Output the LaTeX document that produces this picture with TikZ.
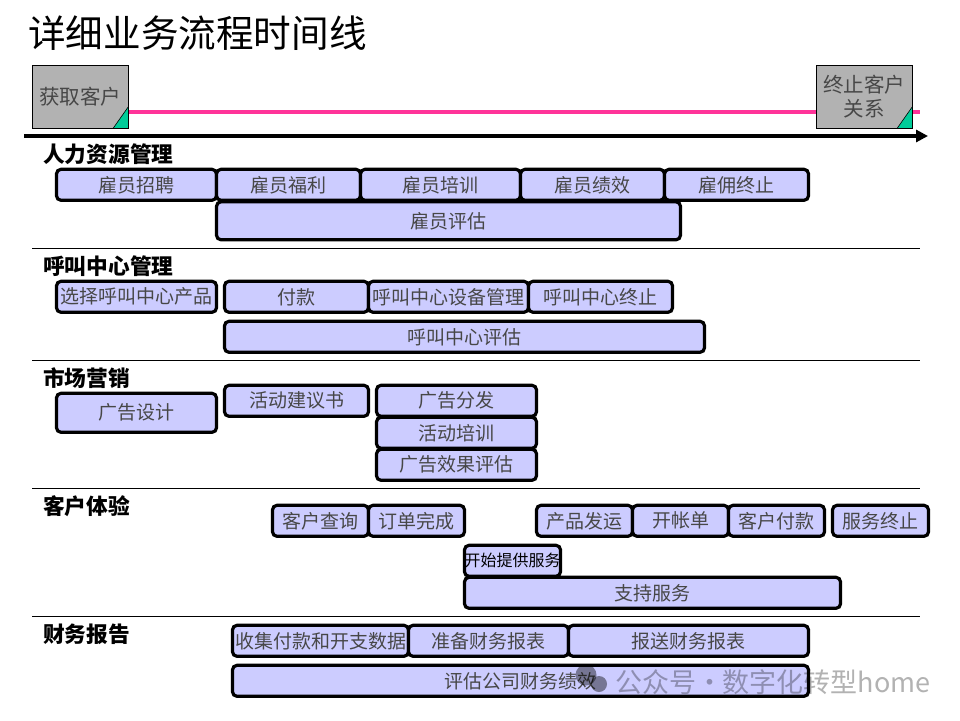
\documentclass[tikz,border=0pt]{standalone}
\usepackage{fontspec}
\setmainfont{Noto Sans CJK SC}
\usepackage{xcolor}
\usetikzlibrary{arrows.meta}
\definecolor{barfill}{HTML}{CCCCFF}
\definecolor{stagegray}{HTML}{B2B2B2}
\definecolor{stagemark}{HTML}{00CC99}
\definecolor{lifeline}{HTML}{FF3399}
\tikzset{
    bar/.style={draw=black, fill=barfill, line width=3.2pt, rounded corners=4.5pt, inner sep=0pt,
        xshift=0.5pt, yshift=-0.3pt, text=black!72, font=\fontsize{19}{22}\selectfont},
    stage/.style={draw=black, fill=stagegray, line width=1pt, inner sep=0pt, align=center,
        minimum width=96pt, minimum height=63pt, text=black!72, font=\fontsize{20.5}{24}\selectfont},
    head/.style={anchor=west, inner sep=0pt, font=\fontsize{21.7}{24}\selectfont\bfseries},
}
\begin{document}
\begin{tikzpicture}[x=1pt, y=-1pt]
        \useasboundingbox (0,0) rectangle (960,720);
        
        % Title
        \node[anchor=west, inner sep=0pt, font=\fontsize{37.6}{40}\selectfont] (title) at (28,33) {详细业务流程时间线};
        
        % Lifecycle
        \node[stage] (acquire) at (80,96.5) {获取客户};
        \node[stage] (finish) at (864,96.5) {终止客户\\关系};
        \coordinate (lifeend) at (920,112);
        \draw[lifeline, line width=4pt] (acquire.east |- lifeend) -- (finish.west |- lifeend);
        \draw[lifeline, line width=4pt] (finish.east |- lifeend) -- (lifeend);
        \foreach \n in {acquire,finish} {
            \draw[fill=stagemark, line width=0.6pt] (\n.south east) -- ++(-15.5,0) -- ++(15.5,-22) -- cycle;
        }
        
        % Timeline
        \coordinate (axisstart) at (24,136);
        \coordinate (axisend) at (928,136);
        \draw[line width=4pt, -{Triangle[length=12pt,width=12pt]}] (axisstart) -- (axisend);
        
        % Separators
        \foreach \y in {248,360,488,616} {
            \draw[line width=0.8pt] (32,\y) -- (920,\y);
        }
        
        % Human resources
        \node[head] (hr) at (43,154) {人力资源管理};
        \node[bar, minimum width=160pt, minimum height=31pt] (hire) at (136,184.5) {雇员招聘};
        \node[bar, minimum width=144pt, minimum height=31pt] (benefit) at (288,184.5) {雇员福利};
        \node[bar, minimum width=160pt, minimum height=31pt] (train) at (440,184.5) {雇员培训};
        \node[bar, minimum width=144pt, minimum height=31pt] (perform) at (592,184.5) {雇员绩效};
        \node[bar, minimum width=144pt, minimum height=31pt] (dismiss) at (736,184.5) {雇佣终止};
        \node[bar, minimum width=464pt, minimum height=38pt] (staffeval) at (448,220.5) {雇员评估};
        
        % Call centre
        \node[head] (cc) at (43,266) {呼叫中心管理};
        \node[bar, minimum width=160pt, minimum height=31pt] (choose) at (136,296.5) {选择呼叫中心产品};
        \node[bar, minimum width=144pt, minimum height=31pt] (pay) at (296,296.5) {付款};
        \node[bar, minimum width=160pt, minimum height=31pt] (equip) at (448,296.5) {呼叫中心设备管理};
        \node[bar, minimum width=144pt, minimum height=31pt] (ccend) at (600,296.5) {呼叫中心终止};
        \node[bar, minimum width=480pt, minimum height=31pt] (cceval) at (464,336.5) {呼叫中心评估};
        
        % Marketing
        \node[head] (mkt) at (43,378) {市场营销};
        \node[bar, minimum width=160pt, minimum height=39pt] (addesign) at (136,412.5) {广告设计};
        \node[bar, minimum width=144pt, minimum height=31pt] (proposal) at (296,400.5) {活动建议书};
        \node[bar, minimum width=160pt, minimum height=31pt] (adsend) at (456,400.5) {广告分发};
        \node[bar, minimum width=160pt, minimum height=31pt] (camptrain) at (456,432.5) {活动培训};
        \node[bar, minimum width=160pt, minimum height=31pt] (adeval) at (456,464.5) {广告效果评估};
        
        % Customer experience
        \node[head] (cx) at (43,506) {客户体验};
        \node[bar, minimum width=96pt, minimum height=31pt] (query) at (320,520.5) {客户查询};
        \node[bar, minimum width=96pt, minimum height=31pt] (order) at (416,520.5) {订单完成};
        \node[bar, minimum width=96pt, minimum height=31pt] (ship) at (584,520.5) {产品发运};
        \node[bar, minimum width=96pt, minimum height=31pt] (bill) at (680,520.5) {开帐单};
        \node[bar, minimum width=96pt, minimum height=31pt] (custpay) at (776,520.5) {客户付款};
        \node[bar, minimum width=96pt, minimum height=31pt] (svcend) at (880,520.5) {服务终止};
        \node[bar, minimum width=96pt, minimum height=31pt, text=black, font=\fontsize{16}{18}\selectfont] (svcstart) at (512,560.5) {开始提供服务};
        \node[bar, minimum width=376pt, minimum height=31pt] (support) at (652,592.5) {支持服务};
        
        % Finance
        \node[head] (fin) at (43,634) {财务报告};
        \node[bar, minimum width=176pt, minimum height=31pt] (collect) at (320,640.5) {收集付款和开支数据};
        \node[bar, minimum width=160pt, minimum height=31pt] (prepare) at (488,640.5) {准备财务报表};
        \node[bar, minimum width=240pt, minimum height=31pt] (submit) at (688,640.5) {报送财务报表};
        \node[bar, minimum width=576pt, minimum height=31pt] (fineval) at (520,680.5) {评估公司财务绩效};
        
        % Watermark
        \fill[black, opacity=0.42] (586,675) circle (10.5);
        \fill[black, opacity=0.42] (599,684) circle (8);
        \node[anchor=west, inner sep=0pt, text=black, opacity=0.3, font=\fontsize{27}{28}\selectfont] (mark) at (615,682) {公众号\kern-6pt{} · \kern-6.5pt{}数字化转型home};
    \end{tikzpicture}
\end{document}
